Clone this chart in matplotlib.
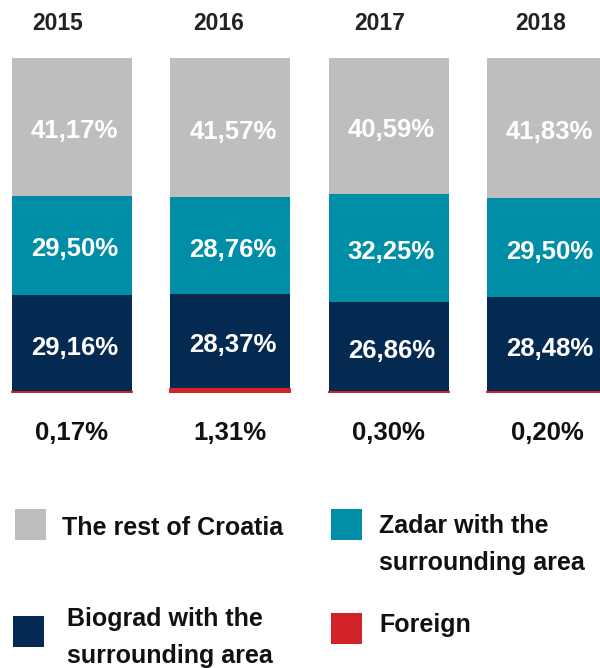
import numpy as np
import matplotlib
matplotlib.use("Agg")
import matplotlib.pyplot as plt
from matplotlib.patches import Rectangle
from matplotlib.transforms import blended_transform_factory, offset_copy

plt.rcParams['font.family'] = ['Liberation Sans', 'DejaVu Sans']

# Share of guests by origin, per year (%)
years = ["2015", "2016", "2017", "2018"]
foreign = [0.17, 1.31, 0.30, 0.20]
biograd = [29.16, 28.37, 26.86, 28.48]
zadar = [29.50, 28.76, 32.25, 29.50]
rest_of_croatia = [41.17, 41.57, 40.59, 41.83]

series_names = ["The rest of Croatia", "Zadar with the\nsurrounding area",
                "Biograd with the\nsurrounding area", "Foreign"]

GRAY = "#bdbebe"
TEAL = "#008ea7"
NAVY = "#052a51"
RED = "#d2232a"

W, H = 600, 668
fig = plt.figure(figsize=(W / 100, H / 100), dpi=100)


def fx(x):
    return x / W


def fy(y):
    return 1 - y / H


# Axes covering the bar area
top_px, bot_px = 58, 393
ax = fig.add_axes([0, fy(bot_px), 1, (bot_px - top_px) / H])
ax.set_axis_off()

step_px = 158.33
first_center = 72
ax.set_xlim(-first_center / step_px, -first_center / step_px + W / step_px)
ax.set_ylim(0, 100)
bar_w = 120 / step_px

x = np.arange(len(years))
f = np.array(foreign)
b = np.array(biograd)
z = np.array(zadar)
r = np.array(rest_of_croatia)

ax.bar(x, f, bar_w, color=RED, edgecolor=RED, linewidth=1.4, zorder=3)
ax.bar(x, b, bar_w, bottom=f, color=NAVY, linewidth=0, zorder=2)
ax.bar(x, z, bar_w, bottom=f + b, color=TEAL, linewidth=0, zorder=2)
ax.bar(x, r, bar_w, bottom=f + b + z, color=GRAY, linewidth=0, zorder=2)


def fmt(v):
    return f"{v:.2f}".replace(".", ",") + "%"


lab_tr = offset_copy(ax.transData, fig=fig, x=2, y=-3, units="points")
for i in range(len(years)):
    for bottom, val in ((f[i], b[i]), (f[i] + b[i], z[i]), (f[i] + b[i] + z[i], r[i])):
        ax.text(i, bottom + val / 2, fmt(val), transform=lab_tr, ha="center",
                va="center", color="white", fontsize=18.5, fontweight="bold", zorder=5)

# Year headings sit on a slightly wider grid than the bars
year_x_px = [58, 219, 380, 541]
bt = blended_transform_factory(ax.transData, fig.transFigure)
for i, yr in enumerate(years):
    fig.text(fx(year_x_px[i]), fy(24), yr, ha="center", va="center",
             color="#222222", fontsize=16.5, fontweight="bold")
    ax.text(i, fy(433), fmt(f[i]), transform=bt, ha="center", va="center",
            color="#111111", fontsize=18.5, fontweight="bold")

# Legend (text anchored at the baseline of its last line)
legend_items = [
    (GRAY, (15, 509), series_names[0], (62, 535)),
    (TEAL, (331, 509), series_names[1], (379, 570)),
    (NAVY, (13, 616), series_names[2], (67, 663)),
    (RED, (331, 613), series_names[3], (379, 632)),
]
sq = 31
for color, (sx, sy), label, (tx, ty) in legend_items:
    fig.add_artist(Rectangle((fx(sx), fy(sy + sq)), sq / W, sq / H,
                             transform=fig.transFigure, color=color, lw=0))
    fig.text(fx(tx), fy(ty), label, ha="left", va="baseline", fontsize=18,
             fontweight="bold", color="#111111", linespacing=1.7)

fig.savefig("out.png", dpi=100)
